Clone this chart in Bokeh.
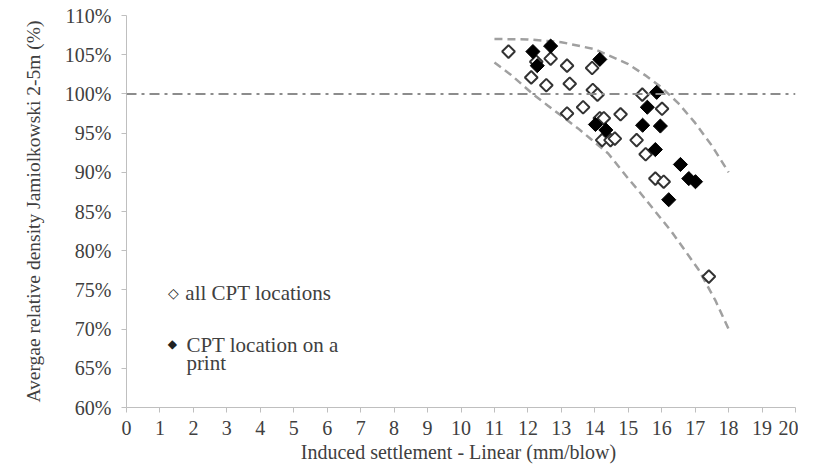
from bokeh.plotting import figure
from bokeh.models import PrintfTickFormatter, FixedTicker, Span, Label
from bokeh.embed import file_html
from bokeh.resources import INLINE
import math

# all CPT locations (open diamonds)
all_x = [11.42, 12.68, 12.25, 12.10, 13.17, 12.55, 13.25, 13.92, 13.94, 14.08,
         15.42, 13.65, 13.17, 14.77, 16.01, 14.15, 14.27, 14.22, 14.47, 14.60,
         15.25, 15.52, 15.81, 16.06, 17.41]
all_y = [105.4, 104.5, 104.1, 102.1, 103.6, 101.1, 101.3, 103.3, 100.5, 99.9,
         99.9, 98.3, 97.5, 97.4, 98.1, 96.9, 96.9, 94.1, 94.1, 94.3,
         94.1, 92.3, 89.2, 88.8, 76.7]

# CPT location on a print (filled diamonds)
print_x = [12.15, 12.68, 12.28, 14.15, 15.85, 15.57, 15.43, 15.96, 14.02, 14.33,
           15.81, 16.56, 16.81, 17.01, 16.21]
print_y = [105.4, 106.1, 103.6, 104.4, 100.2, 98.3, 96.0, 95.9, 96.1, 95.4,
           92.9, 91.0, 89.2, 88.8, 86.5]

# envelope curves (dashed)
upper_x = [11.0, 12.0, 13.0, 14.0, 15.0, 15.5, 16.0, 16.5, 17.0, 17.5, 18.0]
upper_y = [107.0, 106.95, 106.6, 105.7, 103.8, 102.4, 100.8, 98.8, 96.3, 93.4, 90.0]
lower_x = [11.0, 11.5, 12.2, 12.6, 13.5, 14.4, 15.0, 15.3, 16.3, 17.1, 17.6, 18.0]
lower_y = [104.0, 102.4, 99.8, 98.5, 95.6, 92.4, 89.2, 87.7, 82.4, 77.6, 73.7, 70.0]

ref_level = 100.0
x_ticks = list(range(0, 21))
y_ticks = list(range(60, 111, 5))

legend_labels = ["all CPT locations", "CPT location on a", "print"]

FONT = "Liberation Serif"
TXT = "#404040"

p = figure(width=798, height=465, x_range=(0, 20), y_range=(60, 110),
           output_backend="svg", toolbar_location=None,
           min_border_left=126, min_border_right=3, min_border_top=15, min_border_bottom=58)
p.outline_line_color = None
p.xgrid.visible = False
p.ygrid.visible = False

p.line(upper_x, upper_y, line_color="#a0a0a0", line_width=2.5, line_dash="8 5")
p.line(lower_x, lower_y, line_color="#a0a0a0", line_width=2.5, line_dash="8 5")
p.add_layout(Span(location=ref_level, dimension="width", line_color="#8c8c8c",
                  line_width=2, line_dash="10 5 3 5"))

p.scatter(all_x, all_y, marker="square", size=9, angle=math.pi / 4,
          fill_color="white", line_color="#333333", line_width=2)
p.scatter(print_x, print_y, marker="square", size=10, angle=math.pi / 4,
          fill_color="black", line_color="black", line_width=1)

for ax in (p.xaxis[0], p.yaxis[0]):
    ax.axis_line_color = "#bfbfbf"
    ax.major_tick_line_color = "#bfbfbf"
    ax.minor_tick_line_color = None
    ax.major_tick_in = 0
    ax.major_tick_out = 5
    ax.major_label_text_font = FONT
    ax.major_label_text_font_size = "20px"
    ax.major_label_text_color = TXT
    ax.axis_label_text_font = FONT
    ax.axis_label_text_font_style = "normal"
    ax.axis_label_text_color = TXT

p.xaxis.axis_label_text_font_size = "20px"
p.yaxis.axis_label_text_font_size = "19.5px"
p.xaxis.ticker = FixedTicker(ticks=x_ticks)
p.yaxis.ticker = FixedTicker(ticks=y_ticks)
p.yaxis.formatter = PrintfTickFormatter(format="%d%%")
p.xaxis.major_label_standoff = 8
p.yaxis.major_label_standoff = 10
p.xaxis.axis_label = "Induced settlement  - Linear (mm/blow)"
p.yaxis.axis_label = "Avergae relative density Jamiolkowski 2-5m (%)"
p.xaxis.axis_label_standoff = 3
p.yaxis.axis_label_standoff = 18

# legend (drawn as annotations)
sym_kw = dict(text_align="center", text_baseline="middle", text_color="#222222",
              text_font="DejaVu Sans")
p.add_layout(Label(x=1.40, y=74.6, text="\u25c7", text_font_size="14px", **sym_kw))
p.add_layout(Label(x=1.37, y=68.1, text="\u25c6", text_font_size="12px", **sym_kw))
txt_kw = dict(text_align="left", text_baseline="middle", text_color=TXT,
              text_font=FONT, text_font_size="21px")
p.add_layout(Label(x=1.76, y=74.6, text=legend_labels[0], **txt_kw))
p.add_layout(Label(x=1.79, y=68.0, text=legend_labels[1], **txt_kw))
p.add_layout(Label(x=1.79, y=65.7, text=legend_labels[2], **txt_kw))

open("out.html", "w").write(file_html(p, INLINE))
